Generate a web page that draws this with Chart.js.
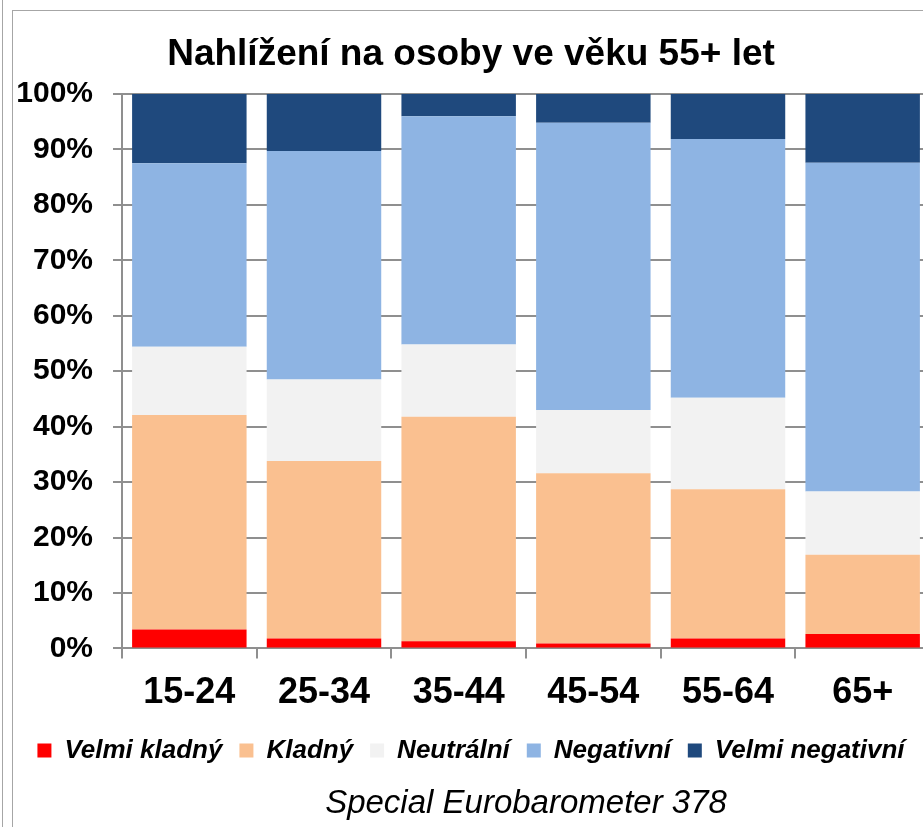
<!DOCTYPE html>
<html>
<head>
<meta charset="utf-8">
<script src="https://cdn.jsdelivr.net/npm/chart.js@4.4.0/dist/chart.umd.min.js"></script>
<style>
  html, body { margin: 0; padding: 0; overflow: hidden; background: #fff; width: 923px; height: 827px; }
  #outer { position: absolute; left: 2px; top: 0; width: 1px; height: 827px; background: #a6a6a6; }
  #frame { position: absolute; left: 12px; top: 10px; width: 960px; height: 830px;
           border-left: 1px solid #a6a6a6; border-top: 1px solid #a6a6a6; }
  #chart { position: absolute; left: 12px; top: 10px; }
</style>
</head>
<body>
<div id="outer"></div>
<div id="frame"></div>
<canvas id="chart" width="936" height="817"></canvas>
<script>
// Data: nahlížení na osoby ve věku 55+ let (%)
const categories = ["15-24", "25-34", "35-44", "45-54", "55-64", "65+"];
const seriesNames = ["Velmi kladný", "Kladný", "Neutrální", "Negativní", "Velmi negativní"];

const velmiKladny    = [3.4, 1.8, 1.3, 0.9, 1.8, 2.6];
const kladny         = [38.7, 32.0, 40.5, 30.7, 26.9, 14.3];
const neutralni      = [12.3, 14.7, 13.0, 11.4, 16.5, 11.4];
const negativni      = [33.1, 41.2, 41.2, 51.8, 46.7, 59.3];
const velmiNegativni = [12.5, 10.3, 4.0, 5.2, 8.1, 12.4];

const colors = ['#ff0000', '#fac090', '#f2f2f2', '#8eb4e3', '#1f497d'];
const gridGray = '#8f8f8f';
const fontFamily = "'Liberation Sans', Arial, sans-serif";

const ctx = document.getElementById('chart').getContext('2d');
const chart = new Chart(ctx, {
    type: 'bar',
    data: {
        labels: categories,
        datasets: [velmiKladny, kladny, neutralni, negativni, velmiNegativni].map((values, i) => ({
            label: seriesNames[i],
            data: values,
            backgroundColor: colors[i],
            borderWidth: 0,
            barPercentage: 0.85,
            categoryPercentage: 1
        }))
    },
    options: {
        responsive: false,
        animation: false,
        layout: { padding: { left: 0, right: 18, top: 0, bottom: 0 } },
        plugins: {
            title: {
                display: true,
                text: 'Nahlížení na osoby ve věku 55+ let',
                color: '#000',
                font: { family: fontFamily, size: 37, weight: 'bold' },
                padding: { top: 23, bottom: 16.6 }
            },
            subtitle: {
                display: true,
                position: 'bottom',
                fullSize: false,
                text: 'Special Eurobarometer 378',
                color: '#000',
                font: { family: fontFamily, size: 33, style: 'italic', weight: 'normal' },
                padding: { top: 11, bottom: 3 }
            },
            legend: {
                display: true,
                position: 'bottom',
                labels: {
                    color: '#000',
                    boxWidth: 14,
                    boxHeight: 14,
                    padding: 17,
                    font: { family: fontFamily, size: 26, weight: 'bold', style: 'italic' }
                }
            },
            tooltip: { enabled: false }
        },
        scales: {
            x: {
                stacked: true,
                grid: {
                    drawOnChartArea: false,
                    drawTicks: true,
                    tickLength: 10,
                    color: gridGray,
                    lineWidth: 2
                },
                border: { display: true, color: gridGray, width: 2 },
                ticks: {
                    color: '#000',
                    padding: 13,
                    font: { family: fontFamily, size: 36, weight: 'bold' }
                },
                afterFit: (scale) => { scale.height = 72; }
            },
            y: {
                stacked: true,
                min: 0,
                max: 100,
                grid: {
                    color: gridGray,
                    lineWidth: 2,
                    tickLength: 9
                },
                border: { display: true, color: gridGray, width: 2 },
                ticks: {
                    stepSize: 10,
                    color: '#000',
                    padding: 20,
                    font: { family: fontFamily, size: 30, weight: 'bold' },
                    callback: (v) => v + '%'
                },
                afterFit: (scale) => { scale.width = 110; }
            }
        }
    }
});
</script>
</body>
</html>
